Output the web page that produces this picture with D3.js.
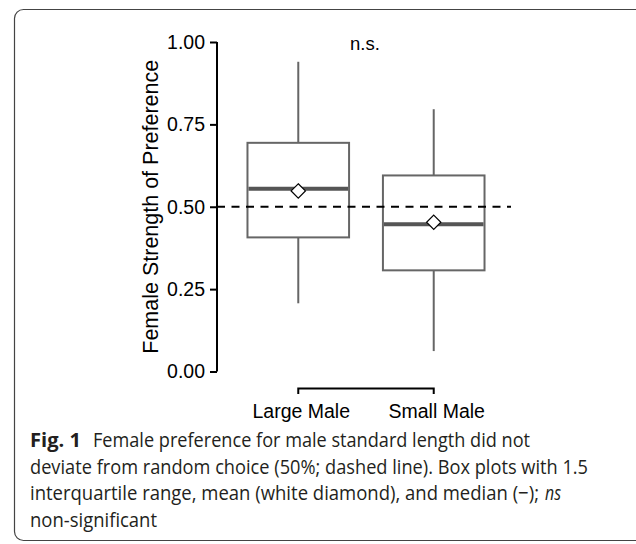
<!DOCTYPE html>
<html>
<head>
<meta charset="utf-8">
<script src="https://cdn.jsdelivr.net/npm/d3@7"></script>
<style>
  body { margin: 0; background: #fff; }
  svg { display: block; }
</style>
</head>
<body>
<div id="root"></div>
<script>
const categories = ["Large Male", "Small Male"];
const whiskerLow = [0.207, 0.062];
const q1 = [0.407, 0.307];
const median = [0.555, 0.447];
const q3 = [0.694, 0.595];
const whiskerHigh = [0.940, 0.796];
const means = [0.548, 0.453];
const yTicks = [0, 0.25, 0.5, 0.75, 1];
const chanceLevel = 0.5;
const captionLines = [
  ["Female preference for male standard length did not", 437],
  ["deviate from random choice (50%; dashed line). Box plots with 1.5", 558],
  ["interquartile range, mean (white diamond), and median (\u2212);", 509],
  ["non-significant", 127]
];

const width = 636, height = 544;
const data = categories.map((c, i) => ({
  name: c, lo: whiskerLow[i], q1: q1[i], med: median[i], q3: q3[i], hi: whiskerHigh[i], mean: means[i]
}));

const svg = d3.select("#root").append("svg")
    .attr("width", width)
    .attr("height", height);

// panel frame
svg.append("rect")
    .attr("x", 14.5).attr("y", 9.5)
    .attr("width", 660).attr("height", 531)
    .attr("rx", 9)
    .attr("fill", "none")
    .attr("stroke", "#444")
    .attr("stroke-width", 1.2);

const y = d3.scaleLinear().domain([0, 1]).range([371.5, 42]);
const x = d3.scalePoint().domain(categories).range([217, 515]).padding(0.6);
const boxW = x.step() * 0.75;

const font = "'Liberation Sans', Arial, sans-serif";

// y axis
const yAxis = svg.append("g")
    .attr("transform", "translate(217,0)")
    .call(d3.axisLeft(y).tickValues(yTicks).tickFormat(d3.format(".2f")).tickSize(7).tickPadding(5));
yAxis.select(".domain").attr("stroke", "#000").attr("stroke-width", 2).attr("d", `M0,${y(0)}V${y(1)}`);
yAxis.selectAll(".tick line").attr("stroke", "#000").attr("stroke-width", 2);
yAxis.selectAll(".tick text")
    .attr("font-family", font)
    .attr("font-size", 19.5)
    .attr("fill", "#000");

svg.append("text")
    .attr("transform", `translate(158,${(y(0) + y(1)) / 2}) rotate(-90)`)
    .attr("text-anchor", "middle")
    .attr("font-family", font)
    .attr("font-size", 21.5)
    .attr("fill", "#000")
    .text("Female Strength of Preference");

// boxes
const g = svg.append("g").selectAll("g")
    .data(data)
    .join("g");

g.append("line")
    .attr("x1", d => x(d.name)).attr("x2", d => x(d.name))
    .attr("y1", d => y(d.hi)).attr("y2", d => y(d.q3))
    .attr("stroke", "#666").attr("stroke-width", 2);
g.append("line")
    .attr("x1", d => x(d.name)).attr("x2", d => x(d.name))
    .attr("y1", d => y(d.q1)).attr("y2", d => y(d.lo))
    .attr("stroke", "#666").attr("stroke-width", 2);
g.append("rect")
    .attr("x", d => x(d.name) - boxW / 2)
    .attr("width", boxW)
    .attr("y", d => y(d.q3))
    .attr("height", d => y(d.q1) - y(d.q3))
    .attr("fill", "#fff")
    .attr("stroke", "#666").attr("stroke-width", 2);

// chance line
svg.append("line")
    .attr("x1", 217).attr("x2", 511)
    .attr("y1", y(chanceLevel)).attr("y2", y(chanceLevel))
    .attr("stroke", "#000").attr("stroke-width", 2)
    .attr("stroke-dasharray", "8,6.5");

g.append("line")
    .attr("x1", d => x(d.name) - boxW / 2 + 1).attr("x2", d => x(d.name) + boxW / 2 - 1)
    .attr("y1", d => y(d.med)).attr("y2", d => y(d.med))
    .attr("stroke", "#555").attr("stroke-width", 4);

g.append("path")
    .attr("d", d3.symbol(d3.symbolDiamond2, 130))
    .attr("transform", d => `translate(${x(d.name)},${y(d.mean)})`)
    .attr("fill", "#fff")
    .attr("stroke", "#000")
    .attr("stroke-width", 1.2);

svg.append("text")
    .attr("x", 365).attr("y", 49.5)
    .attr("text-anchor", "middle")
    .attr("font-family", font)
    .attr("font-size", 18.5)
    .attr("fill", "#000")
    .text("n.s.");

// bracket + labels
const bx0 = x(categories[0]), bx1 = x(categories[1]);
svg.append("path")
    .attr("d", `M${bx0},394V388.5H${bx1}V394`)
    .attr("fill", "none")
    .attr("stroke", "#000")
    .attr("stroke-width", 2);

svg.append("g").selectAll("text")
    .data(categories)
    .join("text")
    .attr("x", d => x(d) + 3)
    .attr("y", 418)
    .attr("text-anchor", "middle")
    .attr("font-family", font)
    .attr("font-size", 19.5)
    .attr("fill", "#000")
    .text(d => d);

// caption
const capFont = "'Open Sans', 'Noto Sans', sans-serif";
const cap = svg.append("g").attr("font-family", capFont).attr("font-size", 20).attr("fill", "#231f20");
captionLines.forEach(([txt, len], i) => {
  const yy = 447 + i * 26.7;
  const x0 = i === 0 ? 93 : 30;
  cap.append("text").attr("x", x0).attr("y", yy)
      .attr("textLength", len).attr("lengthAdjust", "spacingAndGlyphs")
      .text(txt);
});
cap.append("text").attr("x", 30).attr("y", 447)
    .attr("font-weight", "bold").attr("textLength", 51).attr("lengthAdjust", "spacingAndGlyphs")
    .text("Fig. 1");
cap.append("text").attr("x", 545).attr("y", 447 + 2 * 26.7)
    .attr("font-style", "italic").attr("textLength", 16).attr("lengthAdjust", "spacingAndGlyphs")
    .text("ns");
</script>
</body>
</html>
